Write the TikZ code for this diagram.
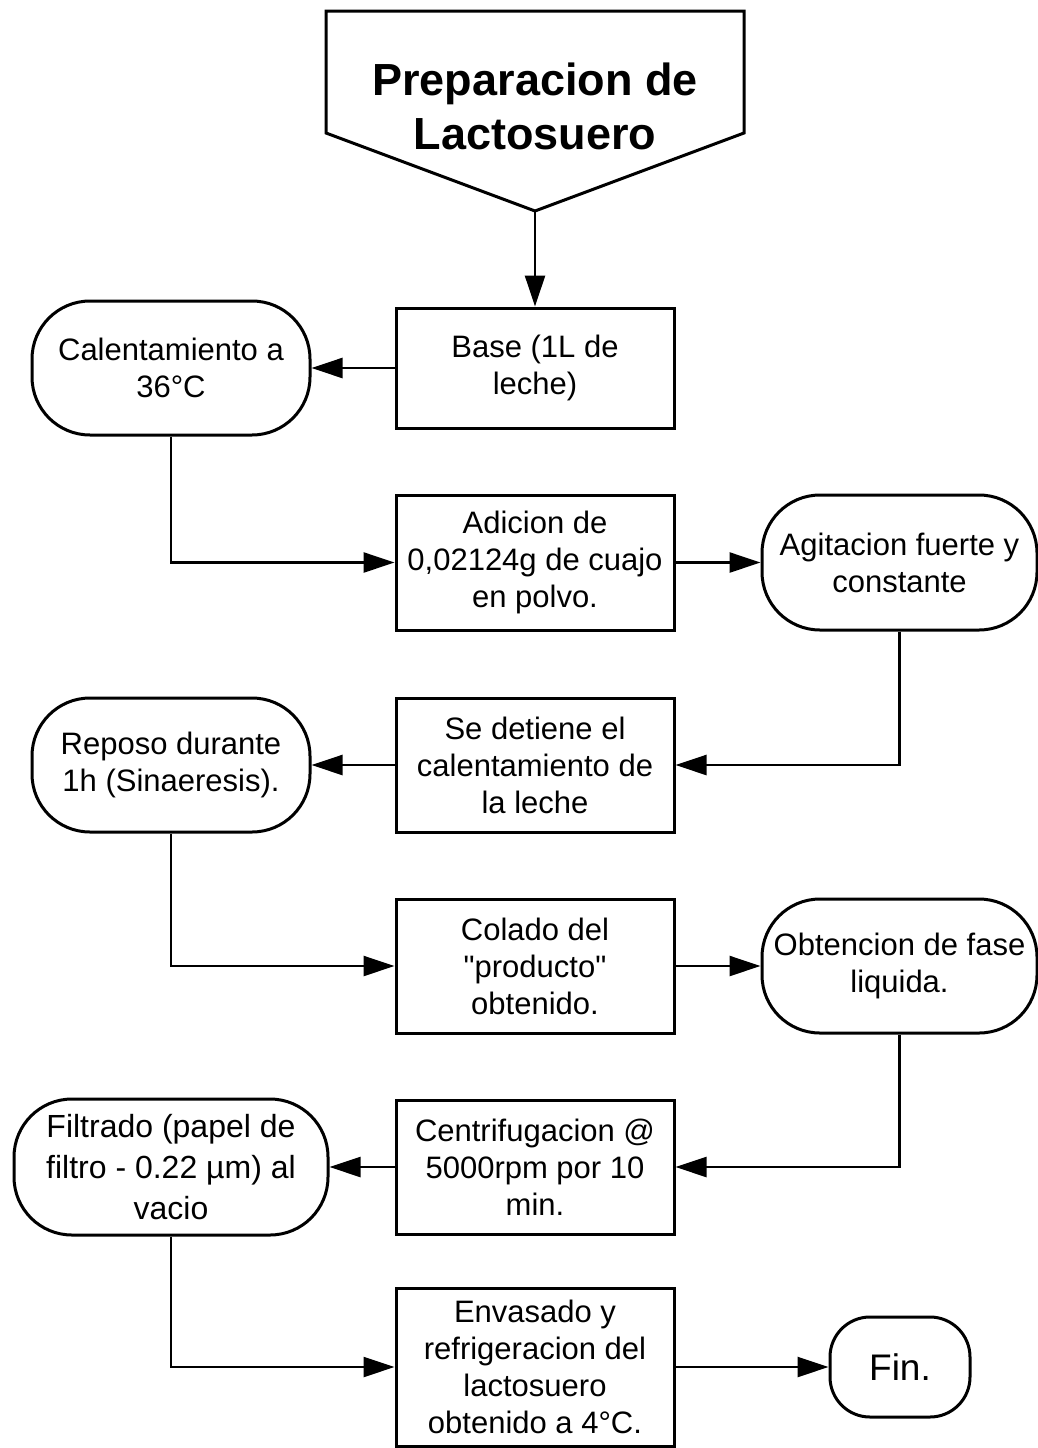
\documentclass[tikz,border=0pt]{standalone}
\usepackage{fontspec}
\setmainfont{Liberation Sans}[Ligatures=TeXOff]
\usetikzlibrary{arrows.meta}
\begin{document}
\begin{tikzpicture}[x=1pt,y=-1pt,
  line width=3pt,
  every node/.style={align=center, inner sep=0pt},
  txt/.style={font=\fontsize{31}{37}\selectfont},
  procbox/.style={draw, txt, minimum width=278pt, minimum height=134pt},
  termbox/.style={draw, txt, rounded corners=58pt, minimum width=278pt, minimum height=134pt},
  arr/.style={-{Triangle[length=31pt,width=20pt]}, line width=2.5pt}
]
\useasboundingbox (0,0) rectangle (1038,1448);
% title pentagon
\draw (326,11) -- (744,11) -- (744,133) -- (535,211) -- (326,133) -- cycle;
\coordinate (tip) at (535,211);
\node[font=\fontsize{45}{54}\selectfont\bfseries] (title) at (535,106) {Preparacion de\\Lactosuero};

\node[procbox, minimum height=120pt] (base) at (535,368) {Base (1L de\\leche)};
\node[termbox] (calent) at (171,368) {Calentamiento a\\36°C};
\node[procbox, minimum height=135pt] (adicion) at (535,562.5) {Adicion de\\0,02124g de cuajo\\en polvo.};
\node[termbox, minimum width=275pt, minimum height=135pt] (agit) at (899.5,562.5) {Agitacion fuerte y\\constante};
\node[procbox] (detiene) at (535,765) {Se detiene el\\calentamiento de\\la leche};
\node[termbox] (reposo) at (171,765) {Reposo durante\\1h (Sinaeresis).};
\node[procbox] (colado) at (535,966) {Colado del\\"producto"\\obtenido.};
\node[termbox, minimum width=275pt] (obten) at (899.5,966) {Obtencion de fase\\liquida.};
\node[procbox] (centri) at (535,1167) {Centrifugacion @\\5000rpm por 10\\min.};
\node[termbox, minimum width=314pt, minimum height=136pt, font=\fontsize{32}{41}\selectfont] (filtr) at (171,1167) {Filtrado (papel de\\filtro - 0.22 µm) al\\vacio};
\node[procbox, minimum height=158pt] (envas) at (535,1367) {Envasado y\\refrigeracion del\\lactosuero\\obtenido a 4°C.};
\node[draw, rounded corners=40pt, minimum width=140pt, minimum height=100pt, font=\fontsize{37}{40}\selectfont] (fin) at (900,1367) {Fin.};

\draw[arr] (tip) -- (base.north);
\draw[arr] (base.west) -- (calent.east);
\draw[arr] (calent.south) |- (adicion.west);
\draw[arr] (adicion.east) -- (agit.west);
\draw[arr] (agit.south) |- (detiene.east);
\draw[arr] (detiene.west) -- (reposo.east);
\draw[arr] (reposo.south) |- (colado.west);
\draw[arr] (colado.east) -- (obten.west);
\draw[arr] (obten.south) |- (centri.east);
\draw[arr] (centri.west) -- (filtr.east);
\draw[arr] (filtr.south) |- (envas.west);
\draw[arr] (envas.east) -- (fin.west);
\end{tikzpicture}
\end{document}
